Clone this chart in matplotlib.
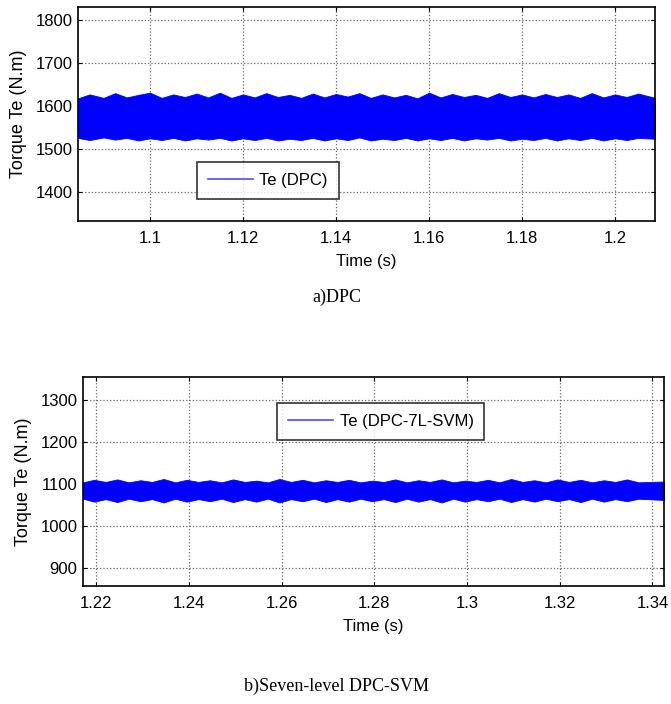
import matplotlib
matplotlib.use("Agg")
import matplotlib.pyplot as plt
from matplotlib.lines import Line2D

# ---- data (envelope of the torque ripple) ----
t_dpc = [1.0845, 1.087, 1.090, 1.0925, 1.095, 1.0975, 1.100, 1.1025, 1.105, 1.1075,
         1.110, 1.1125, 1.115, 1.1175, 1.120, 1.1225, 1.125, 1.1275, 1.130, 1.1325,
         1.135, 1.1375, 1.140, 1.1425, 1.145, 1.1475, 1.150, 1.1525, 1.155, 1.1575,
         1.160, 1.1625, 1.165, 1.1675, 1.170, 1.1725, 1.175, 1.1775, 1.180, 1.1825,
         1.185, 1.1875, 1.190, 1.1925, 1.195, 1.1975, 1.200, 1.2025, 1.205, 1.2086]
te_dpc_max = [1618, 1627, 1619, 1630, 1620, 1626, 1631, 1619, 1627, 1621,
              1629, 1620, 1631, 1619, 1627, 1620, 1630, 1621, 1626, 1619,
              1629, 1620, 1628, 1622, 1630, 1619, 1627, 1620, 1626, 1618,
              1631, 1620, 1628, 1621, 1626, 1619, 1630, 1621, 1627, 1620,
              1628, 1621, 1627, 1619, 1630, 1620, 1627, 1621, 1629, 1619]
te_dpc_min = [1526, 1521, 1527, 1522, 1526, 1520, 1525, 1521, 1526, 1520,
              1525, 1522, 1526, 1520, 1525, 1521, 1526, 1520, 1524, 1521,
              1526, 1520, 1525, 1521, 1527, 1520, 1524, 1521, 1526, 1520,
              1525, 1521, 1526, 1520, 1525, 1522, 1526, 1520, 1524, 1521,
              1526, 1520, 1525, 1521, 1526, 1520, 1525, 1521, 1526, 1524]

t_svm = [1.2171, 1.2195, 1.222, 1.2245, 1.227, 1.2295, 1.232, 1.2345, 1.237, 1.2395,
         1.242, 1.2445, 1.247, 1.2495, 1.252, 1.2545, 1.257, 1.2595, 1.262, 1.2645,
         1.267, 1.2695, 1.272, 1.2745, 1.277, 1.2795, 1.282, 1.2845, 1.287, 1.2895,
         1.292, 1.2945, 1.297, 1.2995, 1.302, 1.3045, 1.307, 1.3095, 1.312, 1.3145,
         1.317, 1.3195, 1.322, 1.3245, 1.327, 1.3295, 1.332, 1.3345, 1.337, 1.3425]
te_svm_max = [1104, 1110, 1105, 1111, 1104, 1109, 1105, 1112, 1104, 1110,
              1105, 1109, 1104, 1111, 1105, 1108, 1104, 1112, 1105, 1110,
              1104, 1109, 1105, 1110, 1104, 1108, 1105, 1111, 1104, 1109,
              1105, 1111, 1104, 1108, 1105, 1110, 1104, 1112, 1105, 1109,
              1104, 1111, 1105, 1110, 1104, 1109, 1105, 1111, 1104, 1106]
te_svm_min = [1065, 1058, 1064, 1057, 1065, 1059, 1064, 1056, 1065, 1058,
              1064, 1059, 1065, 1057, 1064, 1058, 1065, 1056, 1064, 1059,
              1065, 1057, 1064, 1058, 1065, 1059, 1064, 1057, 1065, 1058,
              1064, 1056, 1065, 1058, 1064, 1059, 1065, 1057, 1064, 1058,
              1065, 1059, 1064, 1057, 1065, 1058, 1064, 1059, 1065, 1062]

xticks_a = [1.10, 1.12, 1.14, 1.16, 1.18, 1.20]
xticklabels_a = ["1.1", "1.12", "1.14", "1.16", "1.18", "1.2"]
yticks_a = [1400, 1500, 1600, 1700, 1800]
xticks_b = [1.22, 1.24, 1.26, 1.28, 1.30, 1.32, 1.34]
xticklabels_b = ["1.22", "1.24", "1.26", "1.28", "1.3", "1.32", "1.34"]
yticks_b = [900, 1000, 1100, 1200, 1300]

plt.rcParams['font.family'] = ['Liberation Sans', 'DejaVu Sans']

W, H = 671, 704
fig = plt.figure(figsize=(W / 100, H / 100), dpi=100)

def px_axes(l, t, r, b):
    return fig.add_axes([l / W, 1 - b / H, (r - l) / W, (b - t) / H])

ax1 = px_axes(78, 7, 655, 221)
ax2 = px_axes(83, 377, 664, 586)

BLUE = (0, 0, 1)
FS = 12

def style(ax, xlim, ylim, xt, xtl, yt):
    ax.set_xlim(*xlim)
    ax.set_ylim(*ylim)
    ax.set_xticks(xt)
    ax.set_xticklabels(xtl)
    ax.set_yticks(yt)
    ax.tick_params(direction='in', length=3, width=0.8, top=True, right=True,
                   labelsize=FS)
    ax.tick_params(axis='x', pad=7)
    ax.tick_params(axis='y', pad=4)
    ax.grid(True, linestyle=':', color='0.4', linewidth=0.9)
    ax.set_axisbelow(True)
    for s in ax.spines.values():
        s.set_linewidth(1.2)
        s.set_color('black')
    ax.set_xlabel("Time (s)", fontsize=FS, labelpad=6)
    ax.set_ylabel("Torque Te (N.m)", fontsize=13, labelpad=6)

ax1.fill_between(t_dpc, te_dpc_min, te_dpc_max, color=BLUE, linewidth=0.6, edgecolor=BLUE)
style(ax1, (1.0845, 1.2086), (1333, 1830), xticks_a, xticklabels_a, yticks_a)
h1 = Line2D([], [], color=(0.3, 0.3, 1), linewidth=1.2)
leg1 = ax1.legend([h1], ["Te (DPC)"], loc='upper left', bbox_to_anchor=(0.206, 0.276),
                  fontsize=FS, frameon=True, fancybox=False, shadow=False,
                  handlelength=2.7, handletextpad=0.4, borderpad=0.65, borderaxespad=0)
leg1.get_frame().set_edgecolor('black')
leg1.get_frame().set_linewidth(1.2)

ax2.fill_between(t_svm, te_svm_min, te_svm_max, color=BLUE, linewidth=0.6, edgecolor=BLUE)
style(ax2, (1.2171, 1.3425), (857, 1355), xticks_b, xticklabels_b, yticks_b)
h2 = Line2D([], [], color=(0.3, 0.3, 1), linewidth=1.2)
leg2 = ax2.legend([h2], ["Te (DPC-7L-SVM)"], loc='upper left', bbox_to_anchor=(0.334, 0.876),
                  fontsize=FS, frameon=True, fancybox=False, shadow=False,
                  handlelength=2.7, handletextpad=0.4, borderpad=0.65, borderaxespad=0)
leg2.get_frame().set_edgecolor('black')
leg2.get_frame().set_linewidth(1.2)

fig.text(336.5 / W, 1 - 297 / H, "a)DPC", ha='center', va='center',
         fontsize=13, family=['Liberation Serif', 'DejaVu Serif'])
fig.text(336.5 / W, 1 - 686 / H, "b)Seven-level DPC-SVM", ha='center', va='center',
         fontsize=13, family=['Liberation Serif', 'DejaVu Serif'])

fig.savefig("out.png", dpi=100)
